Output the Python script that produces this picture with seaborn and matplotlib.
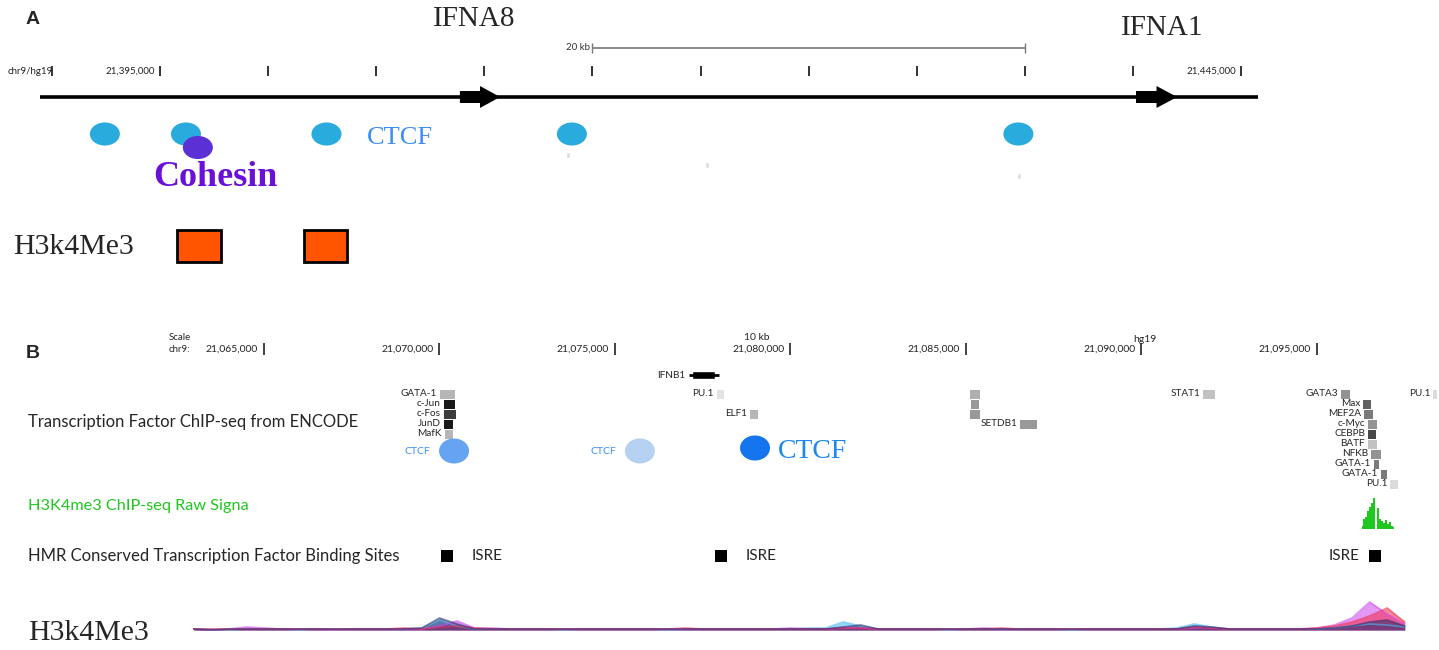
import numpy as np
import pandas as pd
import matplotlib
matplotlib.use("Agg")
from matplotlib import pyplot as plt
from matplotlib.path import Path
from matplotlib.transforms import Affine2D
import seaborn as sns

######## panel A : IFNA8 / IFNA1 region (chr9, hg19)
a_ticks = [21390000, 21395000, 21400000, 21405000, 21410000, 21415000,
           21420000, 21425000, 21430000, 21435000, 21440000, 21445000]
a_tick_labels = ["chr9/hg19", "21,395,000", "", "", "", "", "", "", "", "", "", "21,445,000"]
a_span = [21389450, 21445800]
a_genes = ["IFNA8", "IFNA1"]
a_gene_start = [21408870, 21440140]
a_gene_end = [21410730, 21442040]
a_ctcf = [21392450, 21396200, 21402700, 21414050, 21434700]
a_cohesin = [21396750]
a_h3k4_start = [21395800, 21401650]
a_h3k4_end = [21397800, 21403650]
a_weak = [21413870, 21420300, 21434730]
a_scalebar = [21415000, 21435000]

######## panel B : IFNB1 region
b_ticks = [21065000, 21070000, 21075000, 21080000, 21085000, 21090000, 21095000]
b_tick_labels = ["21,065,000", "21,070,000", "21,075,000", "21,080,000",
                 "21,085,000", "21,090,000", "21,095,000"]
ifnb1 = [21077100, 21077950]
ifnb1_cds = [21077200, 21077850]

tf_names = ["GATA-1", "c-Jun", "c-Fos", "JunD", "MafK", "PU.1", "ELF1",
            "", "", "", "SETDB1", "STAT1", "GATA3", "Max", "MEF2A", "c-Myc",
            "CEBPB", "BATF", "NFKB", "GATA-1", "GATA-1", "PU.1", "PU.1"]
tf_start = [21070014, 21070128, 21070128, 21070128, 21070157, 21077906, 21078846,
            21085114, 21085142, 21085114, 21086538, 21091752, 21095684, 21096311,
            21096339, 21096453, 21096453, 21096453, 21096539, 21096624, 21096824,
            21097080, 21098306]
tf_end = [21070442, 21070441, 21070470, 21070385, 21070385, 21078105, 21079074,
          21085399, 21085371, 21085399, 21087023, 21092094, 21095940, 21096539,
          21096596, 21096709, 21096681, 21096709, 21096824, 21096767, 21096995,
          21097308, 21098420]
tf_row = [0, 1, 2, 3, 4, 0, 2, 0, 1, 2, 3, 0, 0, 1, 2, 3, 4, 5, 6, 7, 8, 9, 0]
tf_score = [300, 950, 800, 950, 300, 120, 300, 330, 420, 420, 420, 250, 450, 650,
            550, 450, 750, 250, 450, 550, 550, 150, 150]

ctcf_b_pos = [21070415, 21075710, 21078990]
ctcf_b_score = [600, 250, 950]
isre_pos = [21070215, 21078020, 21096650]

# H3K4me3 raw signal (green), 57 bp bins
green_start = 21096280
green_step = 57
green_vals = [3, 10, 12, 18, 22, 26, 31, 0, 21, 10, 8, 6, 9, 5, 7, 3, 2]

# H3k4Me3 overlay tracks, 500 bp bins from 21,063,000
wig_start = 21063000
wig_step = 500
wig_blue = [1, 1, 0, 1, 1, 1, 0, 1, 1, 1,
            1, 1, 1, 2, 10, 4, 1, 1, 1, 1,
            1, 0, 1, 1, 1, 1, 1, 0, 1, 1,
            1, 1, 1, 1, 1, 2, 2, 8, 4, 1,
            1, 1, 1, 0, 1, 1, 1, 1, 1, 1,
            0, 1, 1, 1, 1, 1, 2, 6, 3, 1,
            1, 1, 1, 1, 1, 2, 4, 6, 5, 3]
wig_magenta = [1, 0, 1, 3, 2, 1, 1, 1, 0, 1,
               1, 1, 1, 1, 4, 9, 2, 2, 1, 1,
               1, 1, 1, 1, 1, 1, 1, 1, 1, 1,
               1, 1, 1, 1, 2, 1, 1, 2, 2, 1,
               1, 1, 1, 1, 1, 2, 1, 1, 1, 1,
               1, 1, 1, 1, 1, 1, 1, 2, 2, 1,
               1, 1, 1, 1, 2, 5, 12, 28, 16, 6]
wig_red = [1, 1, 1, 1, 1, 1, 1, 1, 1, 1,
           1, 1, 2, 1, 3, 4, 2, 1, 1, 1,
           1, 1, 1, 1, 1, 1, 1, 1, 2, 1,
           1, 1, 1, 1, 1, 1, 1, 2, 2, 1,
           1, 1, 1, 1, 1, 1, 2, 1, 1, 1,
           1, 1, 1, 1, 1, 1, 1, 3, 2, 1,
           1, 1, 1, 1, 2, 4, 8, 14, 22, 8]
wig_navy = [1, 0, 1, 1, 1, 1, 1, 1, 1, 1,
            1, 1, 1, 2, 12, 6, 1, 1, 1, 1,
            1, 1, 1, 1, 1, 1, 1, 1, 1, 1,
            1, 1, 1, 1, 1, 1, 1, 3, 5, 1,
            1, 1, 1, 1, 1, 1, 1, 1, 1, 1,
            1, 1, 1, 1, 1, 1, 1, 4, 3, 1,
            1, 1, 1, 1, 1, 2, 4, 8, 10, 4]

sns.set_theme(style="white")
plt.rcParams['font.family'] = ['Lato', 'DejaVu Sans']
SERIF = ['Liberation Serif', 'DejaVu Serif']
W, H = 1439, 650


def fx(px):
    return px / W


def fy(py):
    return 1 - py / H


fig = plt.figure(figsize=(14.39, 6.5), dpi=100)
axA = fig.add_axes([0, 350 / H, 1, 300 / H])
axA.set_xlim(21387600, 21454154)
axA.set_ylim(300, 0)
axA.axis('off')
axB = fig.add_axes([0, 0, 1, 350 / H])
axB.set_xlim(21057479, 21098476)
axB.set_ylim(650, 300)
axB.axis('off')

# ellipse marker for binding sites
ellipse = Path.unit_circle().transformed(Affine2D().scale(1.3, 1.0))

######## panel A
fig.text(fx(33), fy(20), "A", fontsize=14, fontweight='bold', family=['Liberation Sans'],
         ha='center', va='center')
axA.vlines(a_ticks, 66, 76, color='#222222', lw=1.3)
for t, lab in zip(a_ticks, a_tick_labels):
    if lab:
        off = 1 if lab.startswith("chr") else -5
        axA.annotate(lab, (t, 71), xytext=(off, 0), textcoords='offset pixels',
                     ha='right', va='center', fontsize=7, color='#222222')
axA.hlines(48, a_scalebar[0], a_scalebar[1], color='#777777', lw=1.2)
axA.vlines(a_scalebar, 43, 53, color='#777777', lw=1)
axA.annotate("20 kb", (a_scalebar[0], 48), xytext=(-2, 0), textcoords='offset pixels',
             ha='right', va='center', fontsize=7, color='#333333')

axA.hlines(97, a_span[0], a_span[1], color='black', lw=2.6)
for s, e in zip(a_gene_start, a_gene_end):
    axA.arrow(s, 97, e - s, 0, width=12, head_width=22, head_length=(e - s) * 0.5,
              length_includes_head=True, fc='black', ec='black', lw=0, zorder=3)
fig.text(fx(474), fy(19), a_genes[0], family=SERIF, fontsize=21, ha='center', va='center')
fig.text(fx(1162), fy(28), a_genes[1], family=SERIF, fontsize=21, ha='center', va='center')

sns.scatterplot(x=a_ctcf, y=[134] * len(a_ctcf), ax=axA, marker=ellipse, s=467,
                color='#29abdd', edgecolor='none', linewidth=0, zorder=3)
sns.scatterplot(x=a_cohesin, y=[147.5], ax=axA, marker=ellipse, s=467,
                color='#5b30d4', edgecolor='none', linewidth=0, zorder=4)
fig.text(fx(367), fy(138), "CTCF", family=SERIF, fontsize=19, color='#3a8ff0',
         ha='left', va='center')
fig.text(fx(215), fy(178), "Cohesin", family=SERIF, fontsize=26, fontweight='bold',
         color='#6a10d8', ha='center', va='center')
axA.bar(a_weak, 6, width=180, bottom=[152, 162, 173], color='#dddddd')

fig.text(fx(13), fy(247), "H3k4Me3", family=SERIF, fontsize=21.5, ha='left', va='center')
axA.bar(a_h3k4_start, 32, width=np.subtract(a_h3k4_end, a_h3k4_start), bottom=230,
        align='edge', color='#ff5500', edgecolor='black', linewidth=2)

######## panel B
fig.text(fx(33), fy(353), "B", fontsize=14, fontweight='bold', family=['Liberation Sans'],
         ha='center', va='center')
fig.text(fx(169), fy(338), "Scale", fontsize=7, ha='left', va='center')
fig.text(fx(169), fy(350), "chr9:", fontsize=7, ha='left', va='center')
fig.text(fx(757), fy(337), "10 kb", fontsize=7.5, ha='center', va='center')
fig.text(fx(1145), fy(340), "hg19", fontsize=7.5, ha='center', va='center')
axB.vlines(b_ticks, 343, 355, color='#222222', lw=1.2)
for t, lab in zip(b_ticks, b_tick_labels):
    axB.annotate(lab, (t, 349), xytext=(-6, 0), textcoords='offset pixels',
                 ha='right', va='center', fontsize=7.5, color='#222222')

axB.hlines(375, ifnb1[0], ifnb1[1], color='black', lw=2)
axB.bar(ifnb1_cds[0], 8, width=ifnb1_cds[1] - ifnb1_cds[0], bottom=371, align='edge',
        color='black')
axB.annotate("IFNB1", (ifnb1[0], 375), xytext=(-3, 0), textcoords='offset pixels',
             ha='right', va='center', fontsize=7.2)

tf = pd.DataFrame({'name': tf_names, 'start': tf_start, 'end': tf_end,
                   'row': tf_row, 'score': tf_score})
tf['y'] = 394 + 10 * tf['row']
tf['shade'] = [str(round(1 - sc / 1000 * 0.95, 3)) for sc in tf['score']]
axB.bar(tf['start'], 9, width=tf['end'] - tf['start'], bottom=tf['y'] - 4.5,
        align='edge', color=tf['shade'], linewidth=0)
for _, r in tf.iterrows():
    if r['name']:
        axB.annotate(r['name'], (r['start'], r['y']), xytext=(-3, 0),
                     textcoords='offset pixels', ha='right', va='center', fontsize=7.2)

blues = sns.light_palette("#0a6fee", as_cmap=True)
ellipse_b = Path.unit_circle().transformed(Affine2D().scale(1.2, 1.0))
sns.scatterplot(x=ctcf_b_pos, y=[451, 451, 448], hue=ctcf_b_score, palette=blues,
                hue_norm=(0, 1000), ax=axB, marker=ellipse_b, s=467, edgecolor='none',
                linewidth=0, legend=False, zorder=3)
for p in ctcf_b_pos[:2]:
    axB.annotate("CTCF", (p, 451), xytext=(-24, 0), textcoords='offset pixels',
                 ha='right', va='center', fontsize=7.5, color='#3a8ff0')
axB.annotate("CTCF", (ctcf_b_pos[2], 452), xytext=(23, 0), textcoords='offset pixels',
             ha='left', va='center', fontsize=20, color='#1e88ee', family=SERIF)

fig.text(fx(28), fy(422), "Transcription Factor ChIP-seq from ENCODE", fontsize=12,
         ha='left', va='center')
fig.text(fx(28), fy(506), "H3K4me3 ChIP-seq Raw Signa", fontsize=11.7, color='#1ec81e',
         ha='left', va='center')
fig.text(fx(28), fy(556), "HMR Conserved Transcription Factor Binding Sites", fontsize=12,
         ha='left', va='center')

gx = green_start + green_step * np.arange(len(green_vals))
axB.fill_between(gx, 529, 529 - np.array(green_vals), step='mid', color='#1ec81e', lw=0)

sns.scatterplot(x=isre_pos, y=[556] * len(isre_pos), ax=axB, marker='s', s=75,
                color='black', edgecolor='none', linewidth=0)
for p in isre_pos[:2]:
    axB.annotate("ISRE", (p, 556), xytext=(25, 0), textcoords='offset pixels',
                 ha='left', va='center', fontsize=11)
axB.annotate("ISRE", (isre_pos[2], 556), xytext=(-15, 0), textcoords='offset pixels',
             ha='right', va='center', fontsize=11)

wx = wig_start + wig_step * np.arange(len(wig_blue))
for vals, col in [(wig_blue, '#45b4f0'), (wig_magenta, '#cc44ee'),
                  (wig_red, '#ef2a48'), (wig_navy, '#2a2a66')]:
    v = 630 - np.array(vals)
    axB.fill_between(wx, 630, v, color=col, alpha=0.55, lw=0)
    axB.plot(wx, v, color=col, lw=1.2, alpha=0.6)

fig.text(fx(28), fy(633), "H3k4Me3", family=SERIF, fontsize=21.5, ha='left', va='center')

fig.savefig("out.png", dpi=100)
